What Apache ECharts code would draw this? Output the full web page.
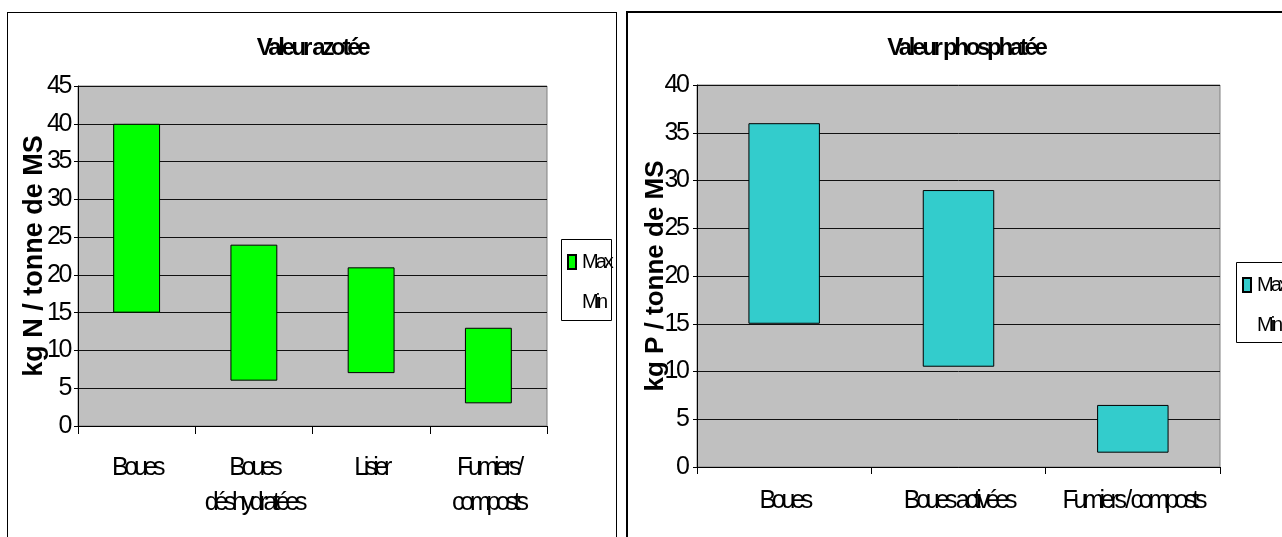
<!DOCTYPE html>
<html><head><meta charset="utf-8">
<script src="https://cdn.jsdelivr.net/npm/echarts@6/dist/echarts.min.js"></script>
<style>
html,body{margin:0;padding:0;background:#fff;overflow:hidden}
.panel{position:absolute;box-sizing:border-box;border:1px solid #000}
#p1{left:7px;top:12px;width:610px;height:560px}
#p2{left:626px;top:11px;width:700px;height:560px;border-width:2px}
#chart{position:absolute;left:0;top:0;width:1282px;height:537px}
</style></head>
<body>
<div class="panel" id="p1"></div><div class="panel" id="p2"></div>
<div id="chart"></div>
<script>
// ---- data ----
const titleN = 'Valeur azotée';
const nameN = 'kg N / tonne de MS';
const catN = ['Boues', 'Boues\ndéshydratées', 'Lisier', 'Fumiers/\ncomposts'];
const minN = [15, 6, 7, 3];
const maxN = [40, 24, 21, 13];
const yMaxN = 45;

const titleP = 'Valeur phosphatée';
const nameP = 'kg P / tonne de MS';
const catP = ['Boues', 'Boues activées', 'Fumiers / composts'];
const minP = [15, 10.5, 1.5];
const maxP = [36, 29, 6.5];
const yMaxP = 40;

const yStep = 5;
const legendLabels = ['Max', 'Min'];

// ---- styles (the reference text is tightly condensed: reproduce with canvas letter-spacing) ----
const F_TITLE = "rsTitle, Arial, 'Liberation Sans', sans-serif";
const F_TICK = "rsTick, Arial, 'Liberation Sans', sans-serif";
const F_CAT = "rsCat, Arial, 'Liberation Sans', sans-serif";
const F_LEG = "rsLeg, Arial, 'Liberation Sans', sans-serif";
const F_NAME = "Arial, 'Liberation Sans', sans-serif";
const SPACING = {rsTitle: '-3.3px', rsTick: '-2.4px', rsCat: '-4.3px', rsLeg: '-3px'};
(function () {
  const proto = CanvasRenderingContext2D.prototype;
  const orig = proto.fillText;
  proto.fillText = function (t, x, y, m) {
    if ('letterSpacing' in this) {
      const f = this.font || '';
      let ls = '0px';
      for (const k in SPACING) { if (f.indexOf(k) >= 0) { ls = SPACING[k]; break; } }
      this.letterSpacing = ls;
    }
    return m === undefined ? orig.call(this, t, x, y) : orig.call(this, t, x, y, m);
  };
})();

const GREEN = '#00ff00', CYAN = '#33cccc';

function yAxis(gi, max, name, nameSize, gap, margin) {
  return {
    gridIndex: gi, type: 'value', min: 0, max: max, interval: yStep,
    name: name, nameLocation: 'middle', nameGap: gap, nameMoveOverlap: false,
    nameTextStyle: {fontFamily: F_NAME, fontWeight: 'bold', fontSize: nameSize, color: '#000'},
    axisLine: {show: true, lineStyle: {color: '#000', width: 1}},
    axisTick: {show: true, length: 4, lineStyle: {color: '#000'}},
    axisLabel: {fontFamily: F_TICK, fontSize: 25, color: '#000', margin: margin},
    splitLine: {show: true, lineStyle: {color: '#111', width: 1}}
  };
}
function xAxis(gi, cats, margin, tickLen) {
  return {
    gridIndex: gi, type: 'category', data: cats,
    axisLine: {show: true, lineStyle: {color: '#000', width: 1}},
    axisTick: {show: true, length: tickLen, lineStyle: {color: '#000'}},
    axisLabel: {interval: 0, fontFamily: F_CAT, fontSize: 25, lineHeight: 35, color: '#000', margin: margin},
    splitLine: {show: false}
  };
}
function pair(gi, mins, maxs, color, width, tag) {
  return [
    {type: 'bar', name: 'Min' + tag, xAxisIndex: gi, yAxisIndex: gi, stack: 's' + gi,
     data: mins, barWidth: width, silent: true,
     itemStyle: {color: 'rgba(0,0,0,0)', borderWidth: 0}},
    {type: 'bar', name: 'Max' + tag, xAxisIndex: gi, yAxisIndex: gi, stack: 's' + gi,
     data: maxs.map((v, i) => v - mins[i]), barWidth: width,
     itemStyle: {color: color, borderColor: '#000', borderWidth: 1}}
  ];
}
function legend(tag, left, top) {
  return {
    data: ['Max' + tag, 'Min' + tag], orient: 'vertical', left: left, top: top,
    padding: 0, itemGap: 20, itemWidth: 8, itemHeight: 14, icon: 'rect',
    formatter: n => n.startsWith('Max') ? legendLabels[0] : legendLabels[1],
    textStyle: {fontFamily: F_LEG, fontSize: 20, color: '#000', padding: [0, 0, 0, 1]},
    selectedMode: false
  };
}

const chart = echarts.init(document.getElementById('chart'), null, {renderer: 'canvas'});
chart.setOption({
  animation: false,
  backgroundColor: 'transparent',
  title: [
    {text: titleN, left: 312, top: 36, padding: 0, textAlign: 'center',
     textStyle: {fontFamily: F_TITLE, fontWeight: 'bold', fontSize: 24, color: '#000'}},
    {text: titleP, left: 966, top: 36, padding: 0, textAlign: 'center',
     textStyle: {fontFamily: F_TITLE, fontWeight: 'bold', fontSize: 24, color: '#000'}}
  ],
  grid: [
    {left: 78, top: 86, width: 469, height: 340, show: true, backgroundColor: '#c0c0c0',
     borderColor: '#808080', borderWidth: 1, containLabel: false, outerBoundsMode: 'none'},
    {left: 697, top: 85, width: 523, height: 382, show: true, backgroundColor: '#c0c0c0',
     borderColor: '#808080', borderWidth: 1, containLabel: false, outerBoundsMode: 'none'}
  ],
  xAxis: [xAxis(0, catN, 25, 8), xAxis(1, catP, 16.5, 7)],
  yAxis: [yAxis(0, yMaxN, nameN, 27, 30, 8), yAxis(1, yMaxP, nameP, 26, 28.5, 9.5)],
  legend: [legend(' N', 567, 252), legend(' P', 1242, 275)],
  graphic: [
    {type: 'rect', z: 1, shape: {x: 561.5, y: 239.5, width: 50, height: 81},
     style: {fill: '#fff', stroke: '#000', lineWidth: 1}},
    {type: 'rect', z: 1, shape: {x: 1236.5, y: 262.5, width: 100, height: 80},
     style: {fill: '#fff', stroke: '#000', lineWidth: 1}}
  ],
  series: [].concat(pair(0, minN, maxN, GREEN, '40%', ' N'), pair(1, minP, maxP, CYAN, '41%', ' P'))
});
</script>
</body></html>
